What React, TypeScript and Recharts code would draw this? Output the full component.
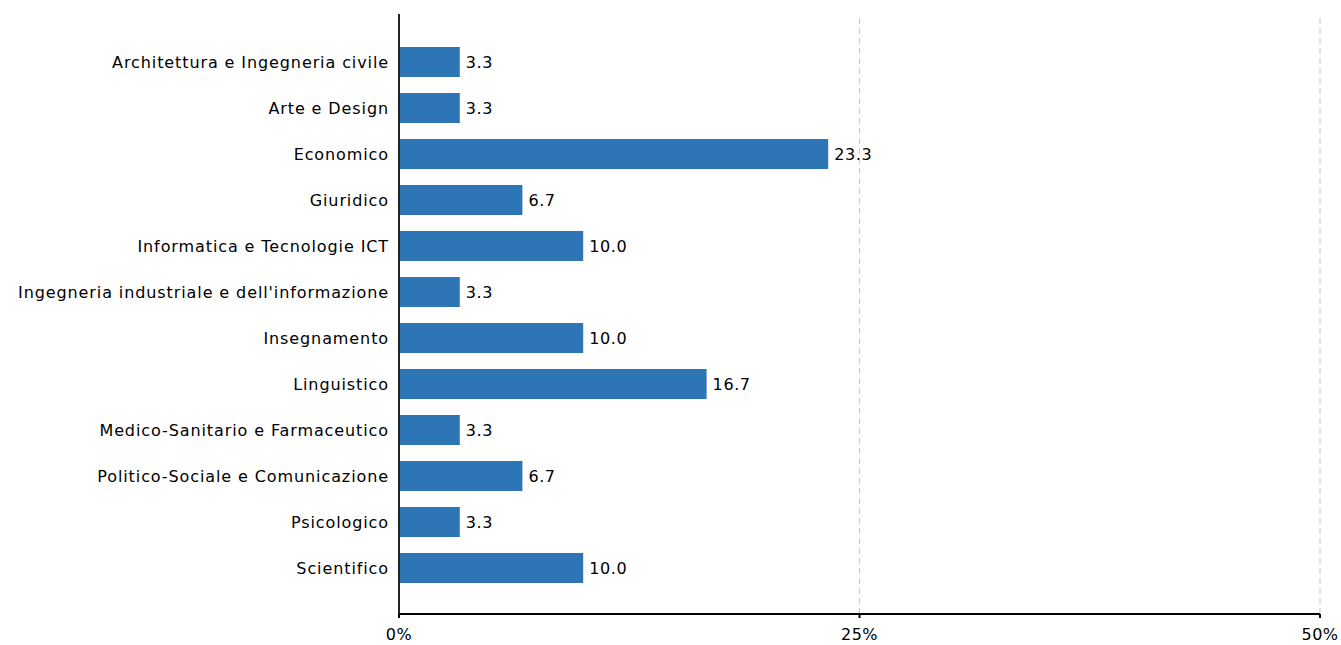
import React from "react";
import { BarChart, Bar, XAxis, YAxis, ReferenceLine, LabelList } from "recharts";

const categories = [
  "Architettura e Ingegneria civile",
  "Arte e Design",
  "Economico",
  "Giuridico",
  "Informatica e Tecnologie ICT",
  "Ingegneria industriale e dell'informazione",
  "Insegnamento",
  "Linguistico",
  "Medico-Sanitario e Farmaceutico",
  "Politico-Sociale e Comunicazione",
  "Psicologico",
  "Scientifico",
];
const values = [3.3, 3.3, 23.3, 6.7, 10.0, 3.3, 10.0, 16.7, 3.3, 6.7, 3.3, 10.0];
const xTicks = [0, 25, 50];

const data = categories.map((name, i) => ({ name, value: values[i] }));

const FONT = "'DejaVu Sans', Verdana, sans-serif";

export default function App() {
  return (
    <div style={{ position: "absolute", left: 0, top: 0, width: 1341, height: 645, background: "#fff" }}>
      <BarChart
        width={1341}
        height={645}
        data={data}
        layout="vertical"
        margin={{ top: 14, right: 21, bottom: 0, left: 0 }}
        barSize={30}
      >
        <XAxis
          type="number"
          domain={[0, 50]}
          ticks={xTicks}
          tickFormatter={(v) => `${v}%`}
          height={31}
          axisLine={{ stroke: "#000", strokeWidth: 2 }}
          tickLine={{ stroke: "#000", strokeWidth: 2 }}
          tickSize={4}
          tickMargin={11}
          tick={{ fill: "#000", fontSize: 16, fontFamily: FONT, letterSpacing: 0.5 }}
          interval={0}
        />
        <YAxis
          type="category"
          dataKey="name"
          width={399}
          padding={{ top: 25, bottom: 23 }}
          axisLine={{ stroke: "#222", strokeWidth: 2 }}
          tickLine={false}
          tickSize={0}
          tickMargin={10}
          tick={{ fill: "#000", fontSize: 16, fontFamily: FONT, letterSpacing: 0.9 }}
          interval={0}
        />
        <Bar dataKey="value" fill="#2e75b5" isAnimationActive={false}>
          <LabelList
            dataKey="value"
            position="right"
            offset={6}
            formatter={(v: number) => v.toFixed(1)}
            style={{ fill: "#000", fontSize: 16, fontFamily: FONT, letterSpacing: 0.6 }}
          />
        </Bar>
        {xTicks.map((t) => (
          <ReferenceLine key={t} x={t} stroke="#c8c8c8" strokeDasharray="6 4" strokeWidth={1} />
        ))}
      </BarChart>
    </div>
  );
}
